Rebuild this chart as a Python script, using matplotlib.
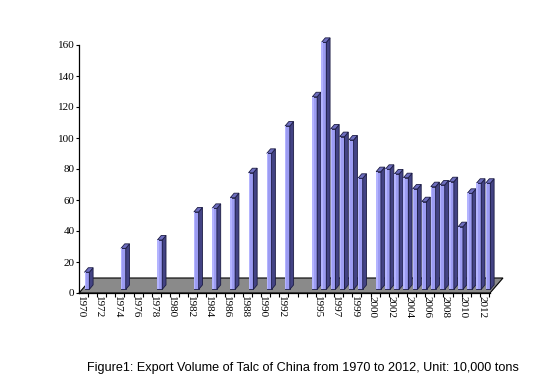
import matplotlib
matplotlib.use("Agg")
import matplotlib.pyplot as plt
from matplotlib.patches import Polygon

# ---- data -------------------------------------------------------------
# one value per category slot on the axis (None = no bar in that slot)
values = [13.4, None, None, None, 28.8, None, None, None, 34.2, None,
          None, None, 52.3, None, 54.6, None, 61.5, None, 77.6, None,
          90.1, None, 107.7, None, None, 126.6, 161.7, 105.8, 100.9, 98.7,
          74.0, None, 78.3, 79.8, 76.8, 74.4, 67.1, 58.9, 68.6, 69.7,
          71.8, 42.8, 64.3, 70.8, 70.8]
# labels shown on every second slot
tick_labels = ["1970", "1972", "1974", "1976", "1978", "1980", "1982",
               "1984", "1986", "1988", "1990", "1992", "", "1995", "1997",
               "1999", "2000", "2002", "2004", "2006", "2008", "2010", "2012"]
y_ticks = [0, 20, 40, 60, 80, 100, 120, 140, 160]
caption = "Figure1: Export Volume of Talc of China from 1970 to 2012, Unit: 10,000 tons"

# ---- figure -----------------------------------------------------------
W, H = 546, 382
fig = plt.figure(figsize=(W / 100, H / 100), dpi=100)
ax_left, ax_right = 79, 490
ax_top, ax_bottom = 45, 293
ax = fig.add_axes([ax_left / W, (H - ax_bottom) / H,
                   (ax_right - ax_left) / W, (ax_bottom - ax_top) / H])

slot_px = 9.114
px_per_unit = (ax_bottom - ax_top) / 160.0
x0 = (ax_left - 80.7) / slot_px
x1 = (ax_right - 80.7) / slot_px
ax.set_xlim(x0, x1)
ax.set_ylim(0, 160)

# pseudo-3D geometry (in data units)
def px_x(p):
    return p / slot_px

def px_y(p):
    return p / px_per_unit

front_off = px_x(3.8)
front_w = px_x(4.8)
ddx = px_x(3.8)
ddy = px_y(4.5)
base = px_y(3.6)

# floor
floor_dx = px_x(13)
floor_dy = px_y(15)
floor = Polygon([(x0, 0), (x1, 0), (x1 + floor_dx, floor_dy), (x0 + floor_dx, floor_dy)],
                closed=True, facecolor="#8a8a8a", edgecolor="black", lw=0.8,
                clip_on=False, zorder=1)
ax.add_patch(floor)

front_c = "#9c9cf2"
side_c = "#434384"
top_c = "#6e6ebf"
edge_c = "#1c1c44"

for i, v in enumerate(values):
    if v is None:
        continue
    xl = i + front_off
    xr = xl + front_w
    front = Polygon([(xl, base), (xr, base), (xr, v), (xl, v)], closed=True,
                    facecolor=front_c, edgecolor=edge_c, lw=0.6, clip_on=False, zorder=3)
    hl = Polygon([(xl, base), (xl + front_w * 0.3, base), (xl + front_w * 0.3, v), (xl, v)],
                 closed=True, facecolor="#b4b4ff", edgecolor="none", clip_on=False, zorder=3.1)
    side = Polygon([(xr, base), (xr + ddx, base + ddy), (xr + ddx, v + ddy), (xr, v)],
                   closed=True, facecolor=side_c, edgecolor=edge_c, lw=0.6, clip_on=False, zorder=3)
    top = Polygon([(xl, v), (xr, v), (xr + ddx, v + ddy), (xl + ddx, v + ddy)],
                  closed=True, facecolor=top_c, edgecolor=edge_c, lw=0.6, clip_on=False, zorder=3)
    for p in (front, hl, side, top):
        ax.add_patch(p)

# axes styling
for s in ("top", "right"):
    ax.spines[s].set_visible(False)
ax.spines["left"].set_linewidth(0.9)
ax.spines["bottom"].set_linewidth(0.9)
ax.spines["left"].set_zorder(5)
ax.spines["bottom"].set_zorder(5)

ax.set_yticks(y_ticks)
ax.set_yticklabels([str(t) for t in y_ticks], fontfamily="Liberation Serif", fontsize=8)
ax.tick_params(axis="y", direction="out", length=2.5, width=0.8, pad=0.8)

major_pos = list(range(0, len(values), 2))
ax.set_xticks(major_pos)
ax.set_xticklabels(tick_labels, rotation=270, fontfamily="Liberation Serif", fontsize=8,
                   ha="center", va="top")
ax.tick_params(axis="x", which="major", length=0, pad=2)
ax.set_xticks([i + 0.8 for i in range(len(values))], minor=True)
ax.tick_params(axis="x", which="minor", direction="out", length=3, width=0.8)

fig.text(303 / W, (H - 368) / H, caption, fontfamily="Liberation Sans", fontsize=9.05,
         ha="center", va="center")

fig.savefig("out.png", dpi=100, facecolor="white")
